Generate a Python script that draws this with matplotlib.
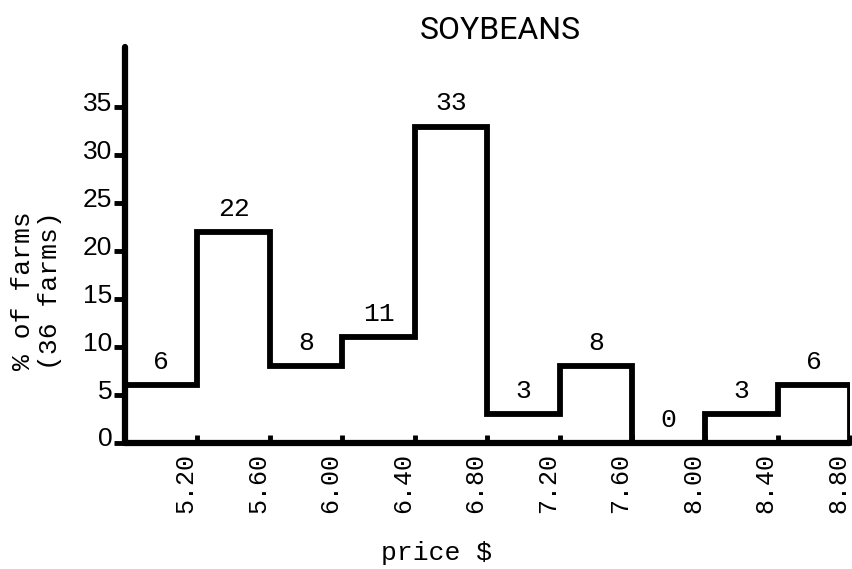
import matplotlib
matplotlib.use("Agg")
import matplotlib.pyplot as plt
from matplotlib.transforms import ScaledTranslation

# bin edges (price $) and % of farms per bin
edges = [4.80, 5.20, 5.60, 6.00, 6.40, 6.80, 7.20, 7.60, 8.00, 8.40, 8.80]
pct_farms = [6, 22, 8, 11, 33, 3, 8, 0, 3, 6]
tick_labels = ["5.20", "5.60", "6.00", "6.40", "6.80", "7.20", "7.60", "8.00", "8.40", "8.80"]
yticks = [0, 5, 10, 15, 20, 25, 30, 35]

mono = ["Liberation Mono", "DejaVu Sans Mono"]

fig = plt.figure(figsize=(8.53, 5.69), dpi=100)
ax = fig.add_axes([0.1465, 0.2215, 0.85, 0.696])

ax.stairs(pct_farms, edges, baseline=0, color="black", lw=4.2, fill=False)

for i, v in enumerate(pct_farms):
    xc = (edges[i] + edges[i + 1]) / 2
    ax.annotate(str(v), (xc, v), xytext=(0, 8), textcoords="offset points",
                ha="center", va="bottom", fontsize=19, family=mono)

ax.set_xlim(edges[0], edges[-1])
ax.set_ylim(0, 41.3)

ax.set_xticks(edges[1:])
ax.set_xticklabels(tick_labels, rotation=90, fontsize=18, family=mono)
ax.set_yticks(yticks)
ax.set_yticklabels([str(t) for t in yticks], fontsize=19, family=["Liberation Sans", "DejaVu Sans"])

ax.tick_params(axis="x", direction="in", length=6, width=3.5, pad=7)
ax.tick_params(axis="y", direction="out", length=8, width=3.5, pad=1)

# shift tick labels a bit, as in the hand-made original
for lab in ax.get_xticklabels():
    lab.set_transform(lab.get_transform() + ScaledTranslation(-0.12, 0, fig.dpi_scale_trans))
for lab in ax.get_yticklabels():
    lab.set_transform(lab.get_transform() + ScaledTranslation(0, 0.06, fig.dpi_scale_trans))

for s in ["top", "right"]:
    ax.spines[s].set_visible(False)
ax.spines["left"].set_linewidth(4.5)
ax.spines["bottom"].set_linewidth(4.5)
ax.spines["left"].set_capstyle("round")
ax.spines["bottom"].set_capstyle("round")

fig.text(0.586, 0.947, "SOYBEANS", ha="center", va="center", fontsize=23,
         family=["Liberation Sans Narrow", "Roboto", "DejaVu Sans"])
fig.text(0.043, 0.49, "% of farms\n(36 farms)", rotation=90, ha="center", va="center",
         fontsize=19, family=mono, linespacing=1.15)
fig.text(0.512, 0.028, "price $", ha="center", va="center", fontsize=19, family=mono)

fig.savefig("out.png", dpi=100)
